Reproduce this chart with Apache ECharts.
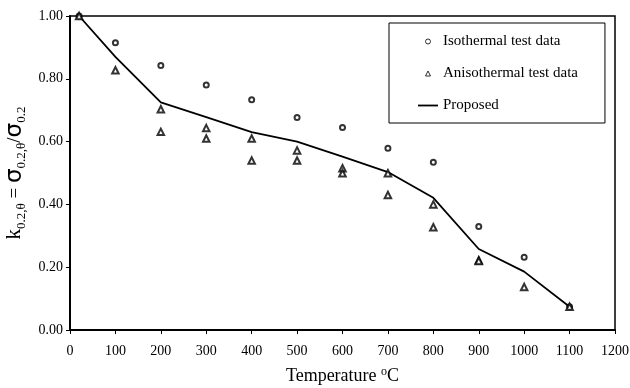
<!DOCTYPE html>
<html>
<head>
<meta charset="utf-8">
<script src="https://cdn.jsdelivr.net/npm/echarts@6/dist/echarts.min.js"></script>
<style>
  html, body { margin: 0; padding: 0; background: #fff; }
  #chart { width: 630px; height: 388px; }
</style>
</head>
<body>
<div id="chart"></div>
<script>
// temperatures (C) and reduction factors
const isoTemp = [20, 100, 200, 300, 400, 500, 600, 700, 800, 900, 1000, 1100]
const isoK = [1.00, 0.915, 0.842, 0.780, 0.733, 0.677, 0.645, 0.579, 0.534, 0.330, 0.232, 0.074]

const anisoTemp = [20, 100, 200, 200, 300, 300, 400, 400, 500, 500, 600, 600, 700, 700, 800, 800, 900, 900, 1000, 1100]
const anisoK = [1.00, 0.827, 0.703, 0.631, 0.643, 0.610, 0.610, 0.540, 0.572, 0.540, 0.515, 0.499, 0.499, 0.430, 0.400, 0.327, 0.222, 0.220, 0.137, 0.074]

const propTemp = [20, 100, 200, 300, 400, 500, 600, 700, 800, 900, 1000, 1100]
const propK = [1.00, 0.870, 0.725, 0.678, 0.630, 0.600, 0.552, 0.503, 0.421, 0.258, 0.186, 0.074]

const xTicks = [0, 1200, 100]   // min, max, step
const yTicks = [0, 1, 0.2]

const pairs = (xs, ys) => xs.map((x, i) => [x, ys[i]])

const serif = 'Liberation Serif'
const hollow = { color: '#fff', borderColor: '#000', borderWidth: 1 }
const chart = echarts.init(document.getElementById('chart'))

chart.setOption({
  animation: false,
  backgroundColor: '#fff',
  textStyle: { fontFamily: serif, color: '#000' },
  grid: {
    left: 70, right: 15, top: 16, bottom: 58,
    outerBoundsMode: 'none',
    containLabel: false,
    show: true, borderColor: '#000', borderWidth: 1.5
  },
  legend: {
    orient: 'vertical',
    left: 389, top: 23,
    padding: [11, 27, 10, 29],
    itemGap: 17,
    itemWidth: 20, itemHeight: 5,
    symbolKeepAspect: true,
    borderColor: '#000', borderWidth: 1,
    backgroundColor: '#fff',
    textStyle: { fontFamily: serif, fontSize: 15, color: '#000' },
    data: [
      { name: 'Isothermal test data', icon: 'circle', itemStyle: hollow },
      { name: 'Anisothermal test data', icon: 'path://M0,-1L1,1L-1,1Z', itemStyle: hollow },
      { name: 'Proposed', icon: 'path://M0,0H20V1.8H0Z', itemStyle: { color: '#000', borderWidth: 0 } }
    ]
  },
  xAxis: {
    type: 'value',
    min: xTicks[0], max: xTicks[1], interval: xTicks[2],
    splitLine: { show: false },
    axisLine: { lineStyle: { color: '#000', width: 2 } },
    axisTick: { length: 4, lineStyle: { color: '#000' } },
    axisLabel: { color: '#000', fontFamily: serif, fontSize: 14, margin: 14, formatter: v => String(v) },
    name: '{t|Temperature }{sup|o}{t|C}',
    nameLocation: 'middle',
    nameGap: 36,
    nameTextStyle: {
      rich: {
        t: { fontFamily: serif, fontSize: 18, color: '#000', lineHeight: 20, verticalAlign: 'middle' },
        sup: { fontFamily: serif, fontSize: 12, color: '#000', lineHeight: 12, verticalAlign: 'top' }
      }
    }
  },
  yAxis: {
    type: 'value',
    min: yTicks[0], max: yTicks[1], interval: yTicks[2],
    splitLine: { show: false },
    axisLine: { lineStyle: { color: '#000', width: 2 } },
    axisTick: { length: 4, lineStyle: { color: '#000' } },
    axisLabel: {
      color: '#000', fontFamily: serif, fontSize: 14, margin: 7,
      formatter: v => v.toFixed(2)
    },
    name: '{k|k}{sub|0.2,θ}{t| = }{s|σ}{sub|0.2,θ}{t|/}{s|σ}{sub|0.2}',
    nameLocation: 'middle',
    nameRotate: 90,
    nameGap: 40,
    nameTextStyle: {
      rich: {
        k: { fontFamily: serif, fontSize: 21, color: '#000', lineHeight: 26, verticalAlign: 'middle' },
        t: { fontFamily: serif, fontSize: 19, color: '#000', lineHeight: 26, verticalAlign: 'middle' },
        s: { fontFamily: 'DejaVu Sans', fontSize: 23, color: '#000', lineHeight: 26, verticalAlign: 'middle' },
        sub: { fontFamily: serif, fontSize: 13, color: '#000', lineHeight: 13, verticalAlign: 'bottom' }
      }
    }
  },
  series: [
    {
      name: 'Proposed',
      type: 'line',
      data: pairs(propTemp, propK),
      symbol: 'none',
      showSymbol: false,
      lineStyle: { color: '#000', width: 1.8 },
      itemStyle: { color: '#000' },
      z: 1
    },
    {
      name: 'Isothermal test data',
      type: 'scatter',
      data: pairs(isoTemp, isoK),
      symbol: 'emptyCircle',
      symbolSize: 5,
      itemStyle: { color: '#000', borderWidth: 0.8 },
      z: 3
    },
    {
      name: 'Anisothermal test data',
      type: 'scatter',
      data: pairs(anisoTemp, anisoK),
      symbol: 'emptyTriangle',
      symbolSize: 6.5,
      itemStyle: { color: '#000', borderWidth: 0.8 },
      z: 3
    }
  ]
})
</script>
</body>
</html>
